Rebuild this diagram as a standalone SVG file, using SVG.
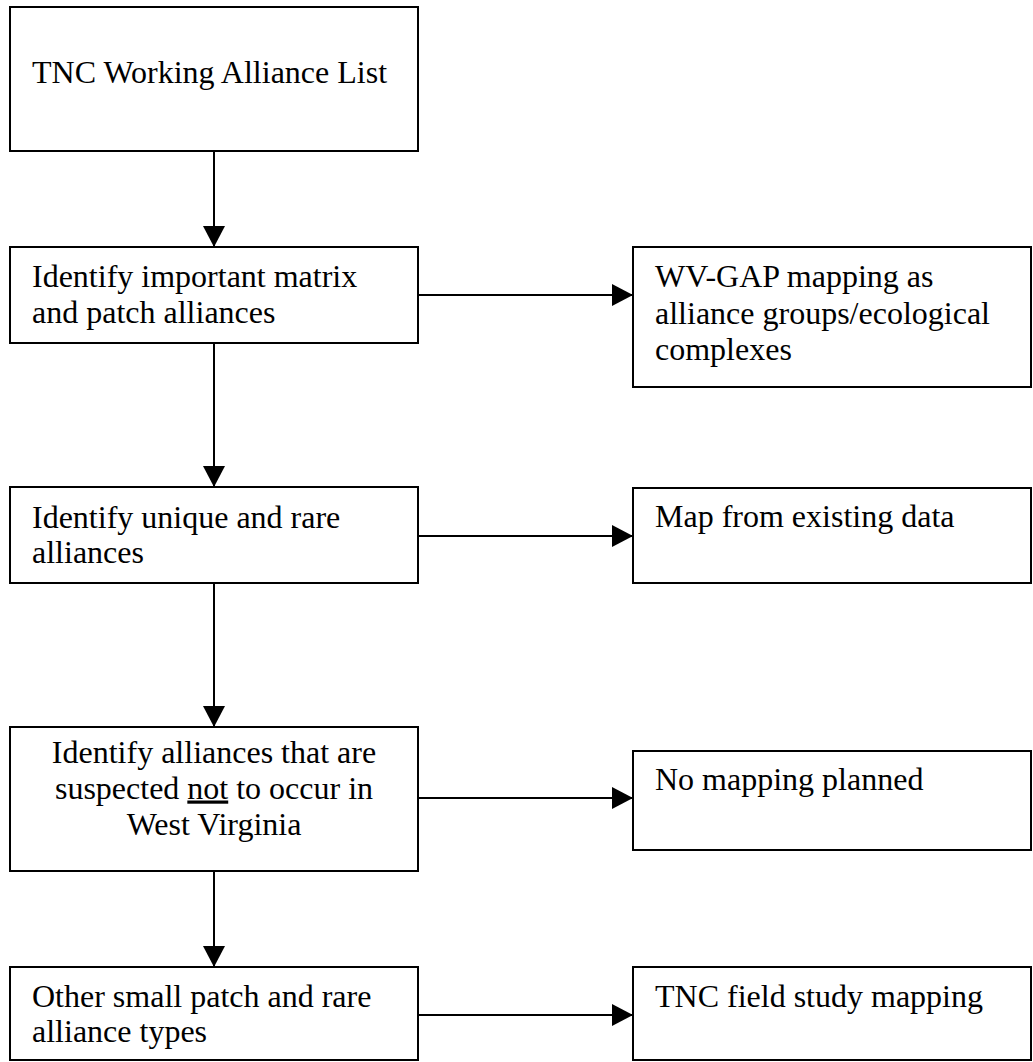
<svg xmlns="http://www.w3.org/2000/svg" width="1033" height="1062" viewBox="0 0 1033 1062">
<style>
.box{fill:#fff;stroke:#000;stroke-width:2}
.t{font-family:"Liberation Serif","Times New Roman",serif;font-size:32px;fill:#000}
.c{text-anchor:middle}
.ln{stroke:#000;stroke-width:2;fill:none}
</style>
<defs>
<marker id="ah" markerWidth="21" markerHeight="22" viewBox="0 0 21 22" refX="21" refY="11" orient="auto" markerUnits="userSpaceOnUse">
<path d="M0,0 L21,11 L0,22 Z" fill="#000"/>
</marker>
</defs>
<rect width="1033" height="1062" fill="#fff"/>
<g id="connectors">
<line class="ln" x1="214" y1="151" x2="214" y2="247" marker-end="url(#ah)"/>
<line class="ln" x1="418" y1="295" x2="633" y2="295" marker-end="url(#ah)"/>
<line class="ln" x1="214" y1="343" x2="214" y2="487" marker-end="url(#ah)"/>
<line class="ln" x1="418" y1="536" x2="633" y2="536" marker-end="url(#ah)"/>
<line class="ln" x1="214" y1="583" x2="214" y2="727" marker-end="url(#ah)"/>
<line class="ln" x1="418" y1="798" x2="633" y2="798" marker-end="url(#ah)"/>
<line class="ln" x1="214" y1="871" x2="214" y2="967" marker-end="url(#ah)"/>
<line class="ln" x1="418" y1="1015" x2="633" y2="1015" marker-end="url(#ah)"/>
</g>
<g id="n1"><rect class="box" x="10" y="7" width="408" height="144"/><text class="t" x="32" y="83">TNC Working Alliance List</text></g>
<g id="n2"><rect class="box" x="10" y="247" width="408" height="96"/><text class="t" x="32" y="287">Identify important matrix</text><text class="t" x="32" y="323">and patch alliances</text></g>
<g id="n3"><rect class="box" x="633" y="247" width="398" height="140"/><text class="t" x="655" y="287">WV-GAP mapping as</text><text class="t" x="655" y="323.5">alliance groups/ecological</text><text class="t" x="655" y="360">complexes</text></g>
<g id="n4"><rect class="box" x="10" y="487" width="408" height="96"/><text class="t" x="32" y="528">Identify unique and rare</text><text class="t" x="32" y="563">alliances</text></g>
<g id="n5"><rect class="box" x="633" y="488" width="398" height="95"/><text class="t" x="655" y="527">Map from existing data</text></g>
<g id="n6"><rect class="box" x="10" y="727" width="408" height="144"/><text class="t c" x="214" y="763">Identify alliances that are</text><text class="t c" x="214" y="798.5">suspected <tspan text-decoration="underline">not</tspan> to occur in</text><text class="t c" x="214" y="835">West Virginia</text></g>
<g id="n7"><rect class="box" x="633" y="751" width="398" height="99"/><text class="t" x="655" y="790">No mapping planned</text></g>
<g id="n8"><rect class="box" x="10" y="967" width="408" height="93"/><text class="t" x="32" y="1007">Other small patch and rare</text><text class="t" x="32" y="1042">alliance types</text></g>
<g id="n9"><rect class="box" x="633" y="967" width="398" height="93"/><text class="t" x="655" y="1007">TNC field study mapping</text></g>
</svg>
